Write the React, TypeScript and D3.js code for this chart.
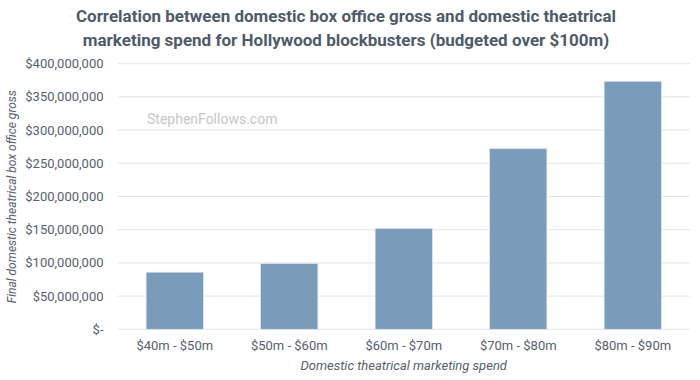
import React from "react";
import * as d3 from "d3";

const categories = ["$40m - $50m", "$50m - $60m", "$60m - $70m", "$70m - $80m", "$80m - $90m"];
const grossValues = [86000000, 99000000, 152000000, 272000000, 373500000];
const yTicks = [0, 50000000, 100000000, 150000000, 200000000, 250000000, 300000000, 350000000, 400000000];
const titleLines = [
  "Correlation between domestic box office gross and domestic theatrical",
  "marketing spend for Hollywood blockbusters (budgeted over $100m)",
];

const W = 700;
const H = 380;
const left = 117.5;
const right = 690;
const top = 63.7;
const bottom = 329.3;
const font = "Roboto, 'Noto Sans', sans-serif";
const textColor = "#56606c";

export default function App() {
  const x = d3.scaleBand<string>().domain(categories).range([left, right]).paddingInner(0.5).paddingOuter(0.25);
  const y = d3.scaleLinear().domain([0, 400000000]).range([bottom, top]);
  const fmt = (v: number) => (v === 0 ? "$-" : "$" + d3.format(",")(v));

  return (
    <svg width={W} height={H} style={{ position: "absolute", left: 0, top: 0, background: "#fff" }} fontFamily={font}>
      {titleLines.map((t, i) => (
        <text key={i} x={346} y={22 + i * 23.5} textAnchor="middle" fontSize={17} fontWeight="bold" fill="#4e5b68">
          {t}
        </text>
      ))}
      {yTicks.map((v) => (
        <g key={v}>
          <line x1={left} x2={right} y1={y(v)} y2={y(v)} stroke="#e4e4ea" strokeWidth={1} />
          <text x={103.5} y={y(v)} dy="0.35em" textAnchor="end" fontSize={13} fill={textColor}>
            {fmt(v)}
          </text>
        </g>
      ))}
      <text x={147} y={124} fontSize={14} fill="#c6c6c6">StephenFollows.com</text>
      {categories.map((c, i) => (
        <rect
          key={c}
          x={x(c)!}
          y={y(grossValues[i])}
          width={x.bandwidth()}
          height={bottom - y(grossValues[i])}
          fill="#7a9cba"
          stroke="#dbe5ee"
          strokeWidth={0.75}
        />
      ))}
      {categories.map((c) => (
        <text key={c} x={x(c)! + x.bandwidth() / 2} y={350} textAnchor="middle" fontSize={13} fill={textColor}>
          {c}
        </text>
      ))}
      <text x={(left + right) / 2} y={370} textAnchor="middle" fontSize={13} fontStyle="italic" fill={textColor}>
        Domestic theatrical marketing spend
      </text>
      <text
        transform={`translate(15.5, 196.7) rotate(-90)`}
        textAnchor="middle"
        fontSize={12}
        fontStyle="italic"
        fill={textColor}
      >
        Final domestic theatrical box office gross
      </text>
    </svg>
  );
}
